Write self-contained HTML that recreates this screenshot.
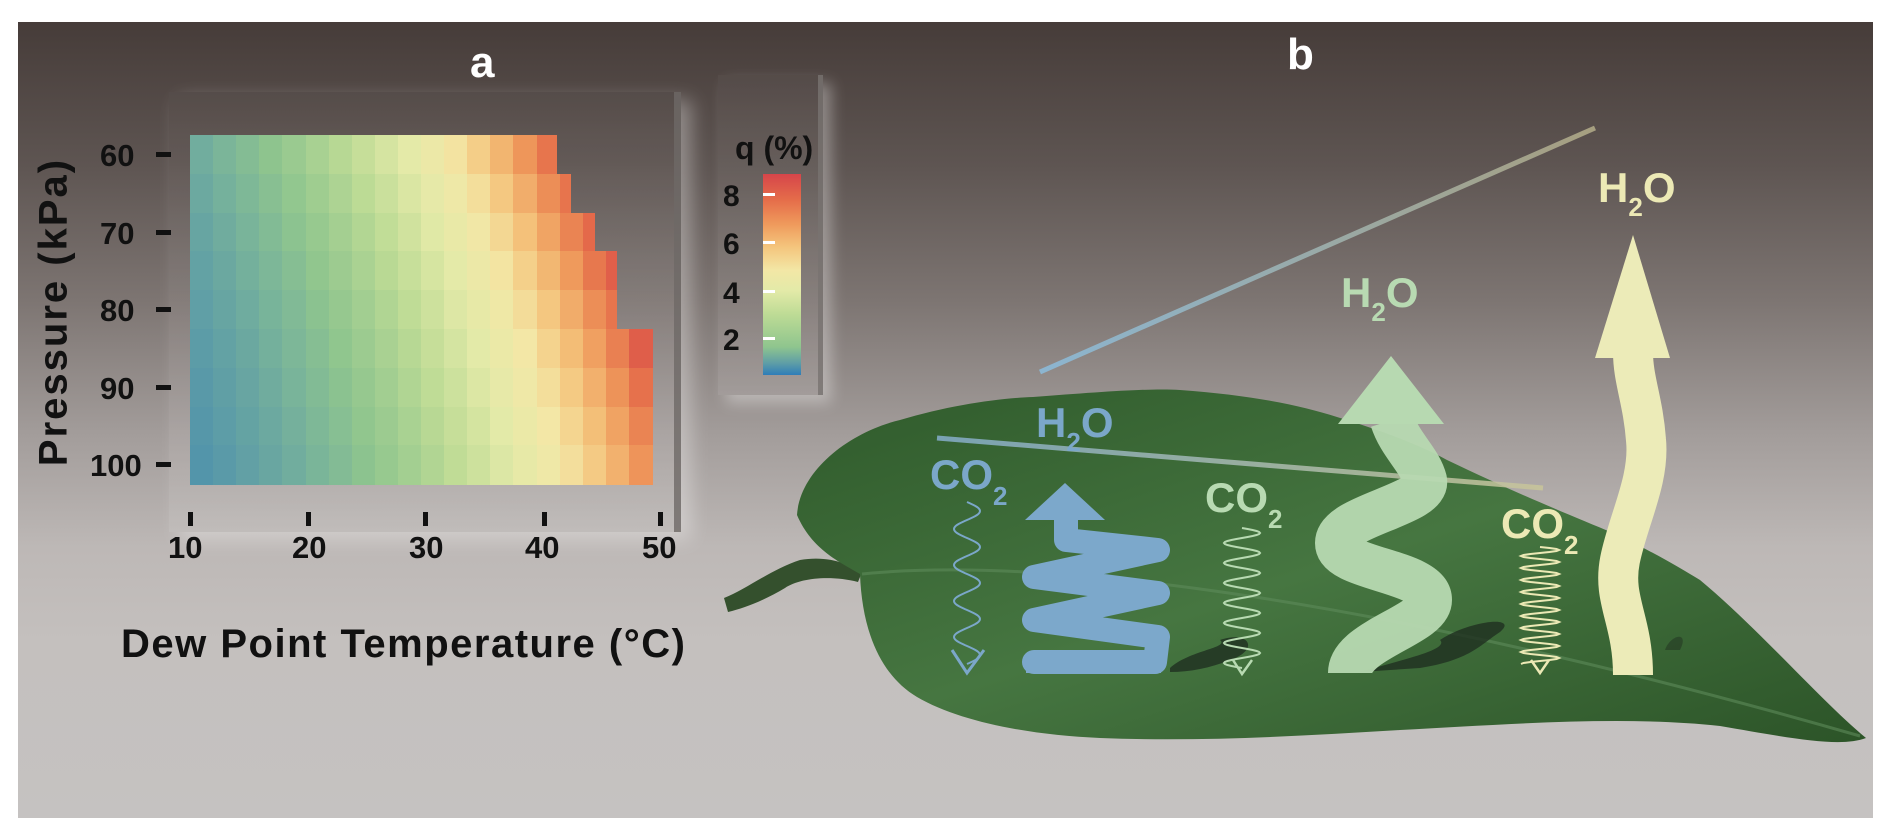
<!DOCTYPE html>
<html><head><meta charset="utf-8">
<style>
html,body{margin:0;padding:0;background:#fff;}
#wrap{position:relative;width:1892px;height:839px;overflow:hidden;background:#fff;font-family:"Liberation Sans",sans-serif;}
#frame{position:absolute;left:18px;top:22px;width:1855px;height:796px;
background:linear-gradient(to bottom,#463c39 0%,#5e5552 18%,#7d7572 35%,#a39d9b 52%,#bdb8b6 66%,#c4c0be 78%,#c5c2c1 100%);}
.t{position:absolute;font-weight:bold;color:#111;white-space:nowrap;}
.w{color:#fff;}
#panel{position:absolute;left:169px;top:92px;width:505px;height:440px;
background:linear-gradient(to bottom,rgba(255,255,255,0.02),rgba(255,255,255,0.10));
border-right:7px solid rgba(110,105,103,0.8);box-shadow:10px 8px 18px rgba(255,255,255,0.35);}
#cpanel{position:absolute;left:718px;top:75px;width:100px;height:320px;
background:linear-gradient(to bottom,rgba(255,255,255,0.03),rgba(255,255,255,0.10));
border-right:5px solid rgba(120,115,113,0.8);box-shadow:8px 8px 14px rgba(255,255,255,0.35);}
.cell{position:absolute;}
.yt{position:absolute;width:15px;height:5px;background:#111;}
.xt{position:absolute;width:5px;height:14px;background:#111;}
</style></head><body>
<div id="wrap">
<div id="frame"></div>
<div id="panel"></div>
<div id="cpanel"></div>
<div id="hm"></div>
<div id="cb" style="position:absolute;left:763px;top:174px;width:38px;height:201px;
background:linear-gradient(to top,#2f7db8 0%,#5f9ea6 6%,#8fc58e 14%,#bddb95 30%,#e3eaa8 42%,#f3e7a6 52%,#f4c47c 64%,#ef9a5c 75%,#e56d4a 87%,#d6454a 100%);"></div>
<div style="position:absolute;left:763px;top:193px;width:12px;height:3px;background:#fff"></div>
<div style="position:absolute;left:763px;top:241px;width:12px;height:3px;background:#fff"></div>
<div style="position:absolute;left:763px;top:290px;width:12px;height:3px;background:#fff"></div>
<div style="position:absolute;left:763px;top:337px;width:12px;height:3px;background:#fff"></div>

<div class="t w" style="left:470px;top:38px;font-size:44px;">a</div>
<div class="t w" style="left:1287px;top:30px;font-size:44px;">b</div>

<div class="t" style="left:735px;top:130px;font-size:32px;">q (%)</div>
<div class="t" style="left:723px;top:180px;font-size:30px;">8</div>
<div class="t" style="left:723px;top:228px;font-size:30px;">6</div>
<div class="t" style="left:723px;top:277px;font-size:30px;">4</div>
<div class="t" style="left:723px;top:324px;font-size:30px;">2</div>

<div class="t" style="left:100px;top:138px;font-size:31px;">60</div>
<div class="t" style="left:100px;top:216px;font-size:31px;">70</div>
<div class="t" style="left:100px;top:293px;font-size:31px;">80</div>
<div class="t" style="left:100px;top:371px;font-size:31px;">90</div>
<div class="t" style="left:90px;top:448px;font-size:31px;">100</div>
<div class="yt" style="left:156px;top:152px"></div>
<div class="yt" style="left:156px;top:230px"></div>
<div class="yt" style="left:156px;top:307px"></div>
<div class="yt" style="left:156px;top:385px"></div>
<div class="yt" style="left:156px;top:462px"></div>

<div class="xt" style="left:188px;top:512px"></div>
<div class="xt" style="left:306px;top:512px"></div>
<div class="xt" style="left:423px;top:512px"></div>
<div class="xt" style="left:542px;top:512px"></div>
<div class="xt" style="left:658px;top:512px"></div>
<div class="t" style="left:168px;top:530px;font-size:31px;">10</div>
<div class="t" style="left:292px;top:530px;font-size:31px;">20</div>
<div class="t" style="left:409px;top:530px;font-size:31px;">30</div>
<div class="t" style="left:525px;top:530px;font-size:31px;">40</div>
<div class="t" style="left:642px;top:530px;font-size:31px;">50</div>

<div class="t" style="left:121px;top:622px;font-size:40px;letter-spacing:1.5px;">Dew Point Temperature (°C)</div>
<div class="t" style="left:54px;top:312px;font-size:40px;letter-spacing:2px;transform:translate(-50%,-50%) rotate(-90deg);">Pressure (kPa)</div>

<svg style="position:absolute;left:0;top:0" width="1892" height="839" xmlns="http://www.w3.org/2000/svg">
<defs>
<linearGradient id="leafg" x1="0" y1="0" x2="1" y2="1">
<stop offset="0" stop-color="#2f5a2b"/><stop offset="0.5" stop-color="#467641"/><stop offset="1" stop-color="#2c5428"/>
</linearGradient>
<linearGradient id="l1" x1="0" y1="0" x2="1" y2="0"><stop offset="0" stop-color="#8cb5d0"/><stop offset="1" stop-color="#a69f80"/></linearGradient>
<linearGradient id="l2" x1="0" y1="0" x2="1" y2="0"><stop offset="0" stop-color="#86aecb"/><stop offset="1" stop-color="#c9c69a"/></linearGradient>
<linearGradient id="l3" x1="0" y1="0" x2="1" y2="0"><stop offset="0" stop-color="#7ba7c9"/><stop offset="1" stop-color="#a9a880"/></linearGradient>
</defs>
<path d="M724,598 C745,590 770,570 800,560 C830,555 850,565 862,572 L858,582 C830,575 800,578 785,588 C765,600 745,608 728,612 Z" fill="#34502d"/>
<path d="M860,574 C840,562 812,550 797,515 C800,470 850,432 900,420 C950,405 1000,398 1033,397 C1100,392 1150,388 1180,390 C1250,395 1300,405 1337,417 C1380,430 1420,445 1447,460 C1520,495 1570,515 1613,533 C1650,550 1680,568 1700,580 C1760,630 1820,700 1866,738 C1840,748 1790,738 1720,726 C1620,715 1500,725 1400,730 C1300,736 1200,742 1100,738 C1030,735 960,722 917,697 C880,675 862,630 860,574 Z" fill="url(#leafg)"/>
<path d="M862,574 C1000,560 1300,575 1860,736" stroke="#5e8a5a" stroke-width="3" fill="none" opacity="0.6"/>

<line x1="1040" y1="372" x2="1595" y2="128" stroke="url(#l1)" stroke-width="5"/>
<line x1="937" y1="438" x2="1543" y2="488" stroke="url(#l2)" stroke-width="5" opacity="0.85"/>
<line x1="961" y1="677" x2="1658" y2="677" stroke="url(#l3)" stroke-width="4"/>

<!-- shadows -->
<path d="M1170,668 C1190,650 1230,648 1220,640 C1250,630 1260,650 1230,660 C1210,668 1190,672 1170,672 Z" fill="#1f3020" opacity="0.8"/>
<path d="M1360,672 C1400,660 1450,650 1440,640 C1470,620 1520,615 1500,632 C1480,645 1470,660 1420,668 Z" fill="#1f3020" opacity="0.8"/>
<path d="M1665,650 C1670,635 1690,630 1680,650 Z" fill="#1f3020" opacity="0.5"/>

<!-- thin waves -->
<polyline id="w1" fill="none" stroke="#7ba7c9" stroke-width="2"/>
<polyline id="w2" fill="none" stroke="#b8dab2" stroke-width="2"/>
<polyline id="w3" fill="none" stroke="#ece9b5" stroke-width="2"/>
<path d="M952,650 L967,673 L984,650" fill="none" stroke="#7ba7c9" stroke-width="3"/>
<path d="M1233,660 L1242,674 L1252,660" fill="none" stroke="#b8dab2" stroke-width="2.5"/>
<path d="M1531,660 L1540,673 L1549,660" fill="none" stroke="#ece9b5" stroke-width="2.5"/>

<!-- blue coil arrow -->
<polyline points="1034,662 1155,662 1158,637 1034,620 1158,593 1034,577 1158,550 1066,540 1066,518" fill="none" stroke="#7ca8cb" stroke-width="24" stroke-linejoin="round" stroke-linecap="round"/>
<rect x="1026" y="660" width="135" height="13" fill="#7ca8cb"/>
<polygon points="1025,520 1105,520 1065,483" fill="#7ca8cb"/>

<!-- green S arrow -->
<path d="M1350,673 C1350,640 1430,625 1430,600 C1430,570 1337,570 1337,543 C1337,515 1430,505 1425,480 C1420,460 1400,445 1392,420" fill="none" stroke="#b7d9b1" stroke-width="44" opacity="0.95"/>
<polygon points="1338,424 1444,424 1391,356" fill="#b7d9b1"/>

<!-- yellow arrow -->
<path d="M1633,675 C1633,620 1612,600 1620,560 C1628,520 1650,480 1646,440 C1643,400 1633,380 1633,352" fill="none" stroke="#ecebb8" stroke-width="40"/>
<polygon points="1595,358 1670,358 1633,235" fill="#ecebb8"/>

<g font-family="Liberation Sans, sans-serif" font-weight="bold" font-size="42">
<text x="1036" y="437" fill="#7ba7c9">H<tspan font-size="26" dy="14">2</tspan><tspan dy="-14">O</tspan></text>
<text x="930" y="489" fill="#7ba7c9">CO<tspan font-size="26" dy="16">2</tspan></text>
<text x="1205" y="512" fill="#b8dab2">CO<tspan font-size="26" dy="16">2</tspan></text>
<text x="1341" y="307" fill="#b8dab2">H<tspan font-size="26" dy="14">2</tspan><tspan dy="-14">O</tspan></text>
<text x="1501" y="538" fill="#ece9b5">CO<tspan font-size="26" dy="16">2</tspan></text>
<text x="1598" y="202" fill="#ece9b5">H<tspan font-size="26" dy="14">2</tspan><tspan dy="-14">O</tspan></text>
</g>
</svg>
</div>
<script>
(function(){
var stops=[[0.5,[63,134,176]],[1.0,[95,158,166]],[1.5,[121,180,154]],[2.0,[143,197,142]],[3.0,[189,219,149]],[4.0,[227,234,168]],[5.0,[243,231,166]],[6.0,[244,196,124]],[7.0,[239,154,92]],[8.0,[229,109,74]],[9.0,[214,69,74]]];
function col(q){if(q<=stops[0][0])return stops[0][1];for(var i=1;i<stops.length;i++){if(q<=stops[i][0]){var a=stops[i-1],b=stops[i],t=(q-a[0])/(b[0]-a[0]);return [0,1,2].map(function(k){return Math.round(a[1][k]+(b[1][k]-a[1][k])*t);});}}return stops[stops.length-1][1];}
var ends=[556,570,594,616,616,652,652,652,652];
var hm=document.getElementById('hm');var h='';
for(var r=0;r<9;r++){var P=60+5*r;var y0=135+r*38.8;
for(var c=0;c<20;c++){var x0=190+c*23.1;var x1=Math.min(x0+23.1,ends[r]);if(x1<=x0)continue;
var T=10+((x0+x1)/2-191)/11.7;var e=6.112*Math.exp(17.67*T/(T+243.5));var q=0.622*e/(P*10)*100;var cc=col(q);
h+='<div class="cell" style="left:'+x0.toFixed(1)+'px;top:'+y0.toFixed(1)+'px;width:'+(x1-x0+0.6).toFixed(1)+'px;height:39.4px;background:rgb('+cc.join(',')+')"></div>';}}
hm.innerHTML=h;
function wave(id,x,y0,y1,amp,per){var p=[];for(var y=y0;y<=y1;y+=1){p.push((x+amp*Math.sin((y-y0)/per*2*Math.PI)).toFixed(1)+','+y);}document.getElementById(id).setAttribute('points',p.join(' '));}
wave('w1',967,502,664,13,36);wave('w2',1242,528,668,18,20);wave('w3',1540,547,664,19,12);
})();
</script>
</body></html>
